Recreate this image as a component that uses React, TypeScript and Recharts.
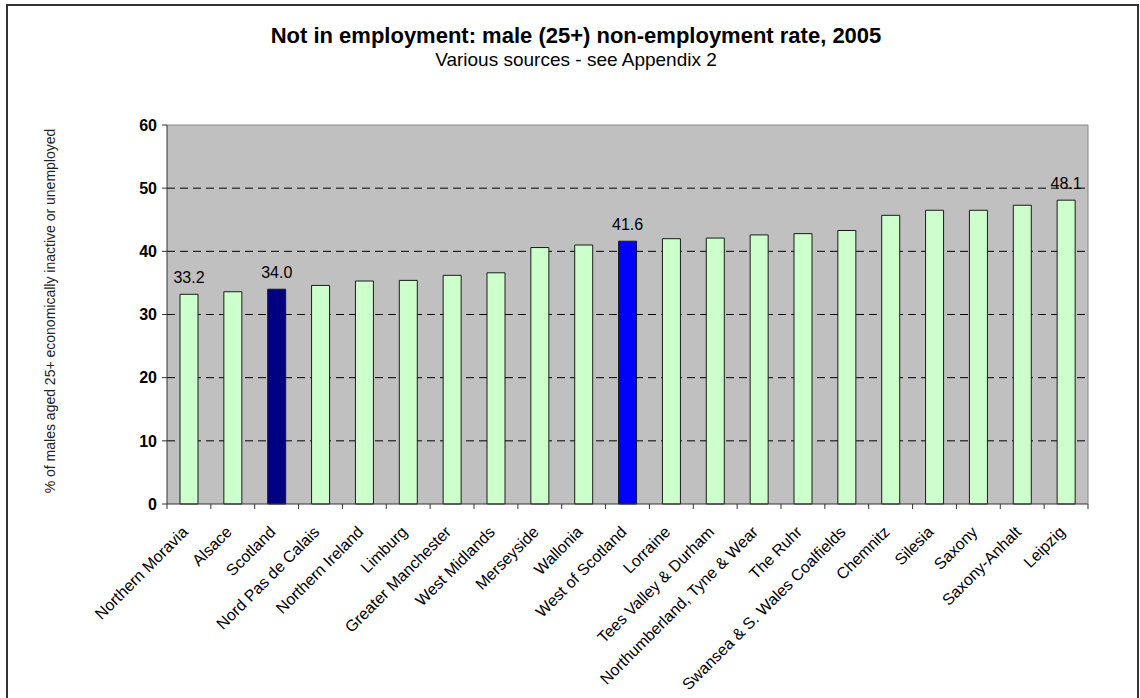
import React from 'react';
import {
  BarChart,
  Bar,
  XAxis,
  YAxis,
  CartesianGrid,
  Cell,
  LabelList,
  ReferenceLine
} from 'recharts';

const regions = [
  'Northern Moravia',
  'Alsace',
  'Scotland',
  'Nord Pas de Calais',
  'Northern Ireland',
  'Limburg',
  'Greater Manchester',
  'West Midlands',
  'Merseyside',
  'Wallonia',
  'West of Scotland',
  'Lorraine',
  'Tees Valley & Durham',
  'Northumberland, Tyne & Wear',
  'The Ruhr',
  'Swansea & S. Wales Coalfields',
  'Chemnitz',
  'Silesia',
  'Saxony',
  'Saxony-Anhalt',
  'Leipzig'
];

const rates = [
  33.2, 33.6, 34.0, 34.6, 35.3, 35.4, 36.2, 36.6, 40.6, 41.0, 41.6,
  42.0, 42.1, 42.6, 42.8, 43.3, 45.7, 46.5, 46.5, 47.3, 48.1
];

const yTicks = [0, 10, 20, 30, 40, 50, 60];
const gridValues = [10, 20, 30, 40, 50];
const labelledRegions = ['Northern Moravia', 'Scotland', 'West of Scotland', 'Leipzig'];

const FONT = 'Arial, "Liberation Sans", sans-serif';

const barColor = (name: string) => {
  if (name === 'Scotland') return '#000080';
  if (name === 'West of Scotland') return '#0000FF';
  return '#CCFFCC';
};

const chartData = regions.map((region, i) => ({ region, rate: rates[i] }));

const RegionTick = (props: any) => {
  const { x, y, payload, index, width } = props;
  const half = width / regions.length / 2;
  return (
    <g>
      {index === 0 && (
        <line x1={x - half} y1={y} x2={x - half} y2={y + 5} stroke="#333" />
      )}
      <line x1={x + half} y1={y} x2={x + half} y2={y + 5} stroke="#333" />
      <text
        transform={`translate(${x},${y + 29}) rotate(-45)`}
        textAnchor="end"
        fontSize={16}
        fontFamily={FONT}
        fill="#000"
      >
        {payload.value}
      </text>
    </g>
  );
};

const ValueLabel = (props: any) => {
  const { x, y, width, value, index } = props;
  if (!labelledRegions.includes(regions[index])) return null;
  return (
    <text
      x={x + width / 2}
      y={y - 11}
      textAnchor="middle"
      fontSize={16}
      fontFamily={FONT}
      fill="#000"
    >
      {Number(value).toFixed(1)}
    </text>
  );
};

export default function App() {
  return (
    <div
      style={{
        position: 'fixed',
        left: 0,
        top: 0,
        width: 1140,
        height: 698,
        background: '#fff',
        overflow: 'hidden',
        fontFamily: FONT
      }}
    >
      <svg
        width={1140}
        height={698}
        style={{ position: 'absolute', left: 0, top: 0 }}
      >
        <text x={576} y={43} textAnchor="middle" fontSize={22} fontWeight="bold" fontFamily={FONT}>
          Not in employment: male (25+) non-employment rate, 2005
        </text>
        <text x={576} y={66} textAnchor="middle" fontSize={19} fontFamily={FONT}>
          Various sources - see Appendix 2
        </text>
        <text
          transform="translate(55,311) rotate(-90)"
          textAnchor="middle"
          fontSize={14}
          fontFamily={FONT}
          fill="#222"
        >
          % of males aged 25+ economically inactive or unemployed
        </text>
      </svg>
      <div style={{ position: 'absolute', left: 0, top: 0 }}>
        <BarChart
          width={1140}
          height={698}
          data={chartData}
          margin={{ top: 125, right: 0, bottom: 44, left: 127 }}
        >
          <CartesianGrid
            horizontalValues={gridValues}
            vertical={false}
            stroke="#000"
            strokeDasharray="8 5"
            fill="#C0C0C0"
          />
          <XAxis
            dataKey="region"
            interval={0}
            height={150}
            tick={<RegionTick />}
            tickLine={false}
            tickSize={0}
            tickMargin={0}
            axisLine={{ stroke: '#333' }}
          />
          <YAxis
            domain={[0, 60]}
            ticks={yTicks}
            interval={0}
            width={40}
            tickSize={5}
            tickMargin={5}
            tick={{ fill: '#000', fontSize: 16, fontWeight: 'bold', fontFamily: FONT }}
            axisLine={{ stroke: '#333' }}
            tickLine={{ stroke: '#333' }}
          />
          <YAxis
            yAxisId="frame"
            orientation="right"
            domain={[0, 60]}
            width={52}
            tick={false}
            tickLine={false}
            axisLine={{ stroke: '#888' }}
          />
          <ReferenceLine y={60} stroke="#888" />
          <Bar
            dataKey="rate"
            barSize={18}
            stroke="#1a1a1a"
            strokeWidth={1}
            isAnimationActive={false}
          >
            {chartData.map(d => (
              <Cell key={d.region} fill={barColor(d.region)} />
            ))}
            <LabelList dataKey="rate" content={<ValueLabel />} />
          </Bar>
        </BarChart>
      </div>
      <svg
        width={1140}
        height={698}
        style={{ position: 'absolute', left: 0, top: 0, zIndex: 10, pointerEvents: 'none' }}
      >
        <line x1={7} y1={5} x2={7} y2={698} stroke="#333" strokeWidth={2} />
        <line x1={6} y1={5} x2={1139} y2={5} stroke="#333" strokeWidth={2} />
        <line x1={1138} y1={4} x2={1138} y2={698} stroke="#333" strokeWidth={2} />
      </svg>
    </div>
  );
}
